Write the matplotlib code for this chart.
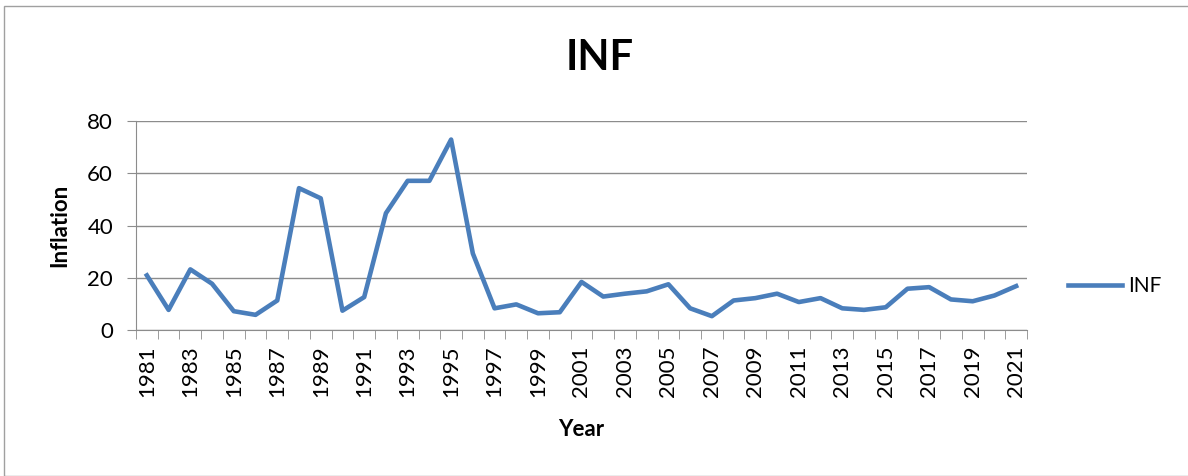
import matplotlib
matplotlib.use("Agg")
import matplotlib.pyplot as plt
from matplotlib.patches import Rectangle

plt.rcParams['font.family'] = ['Lato', 'DejaVu Sans']

years = list(range(1981, 2022))
inflation = [20.9, 7.7, 23.2, 17.7, 7.2, 5.8, 11.3, 54.3, 50.4, 7.4,
             12.6, 44.7, 57.1, 57.1, 72.9, 29.3, 8.3, 9.8, 6.4, 6.8,
             18.4, 12.8, 13.9, 14.8, 17.5, 8.3, 5.3, 11.3, 12.2, 13.9,
             10.7, 12.2, 8.3, 7.7, 8.7, 15.8, 16.4, 11.7, 11.0, 13.2,
             16.8]
y_ticks = [0, 20, 40, 60, 80]

fig = plt.figure(figsize=(11.88, 4.76), dpi=100)
ax = fig.add_axes([136 / 1188, 1 - 330 / 476, 891 / 1188, 209 / 476])

# frame around the whole chart
fig.patches.append(Rectangle((4 / 1188, 0), 1.2, 1 - 6 / 476, transform=fig.transFigure,
                             fill=False, edgecolor='#a0a0a0', linewidth=1))

x = list(range(len(years)))
ax.plot(x, inflation, color='#4a7ebb', linewidth=3.3, label='INF')

ax.set_xlim(-0.5, len(years) - 0.5)
ax.set_ylim(0, 80)
ax.set_yticks(y_ticks)
ax.yaxis.grid(True, color='#8c8c8c', linewidth=1)
ax.set_axisbelow(True)

# category axis: tick marks between categories, labels every other year
ax.set_xticks([i - 0.5 for i in range(len(years) + 1)], minor=True)
ax.set_xticks(x[::2])
ax.set_xticklabels([str(y) for y in years[::2]], rotation=90, fontsize=16)
ax.tick_params(axis='x', which='major', length=0, pad=11)
ax.tick_params(axis='x', which='minor', length=6.5, color='#8c8c8c')
ax.tick_params(axis='y', length=6.5, color='#8c8c8c', labelsize=16, pad=10)

for s in ['top', 'right']:
    ax.spines[s].set_visible(False)
ax.spines['left'].set_color('#8c8c8c')
ax.spines['bottom'].set_color('#8c8c8c')

ax.set_ylabel('Inflation', fontsize=16, fontweight='bold', va='center')
ax.yaxis.set_label_coords((60 - 136) / 891, 0.5)
ax.set_xlabel('Year', fontsize=16, fontweight='bold', va='center')
ax.xaxis.set_label_coords(0.5, (330 - 430) / 209)
fig.text(600 / 1188, 1 - 58 / 476, 'INF', fontsize=30, fontweight='bold', ha='center', va='center')

ax.legend(loc='center left', bbox_to_anchor=(1.025, 0.21), frameon=False, fontsize=15,
          handlelength=2.6, handletextpad=0.3)

fig.savefig('out.png', dpi=100)
